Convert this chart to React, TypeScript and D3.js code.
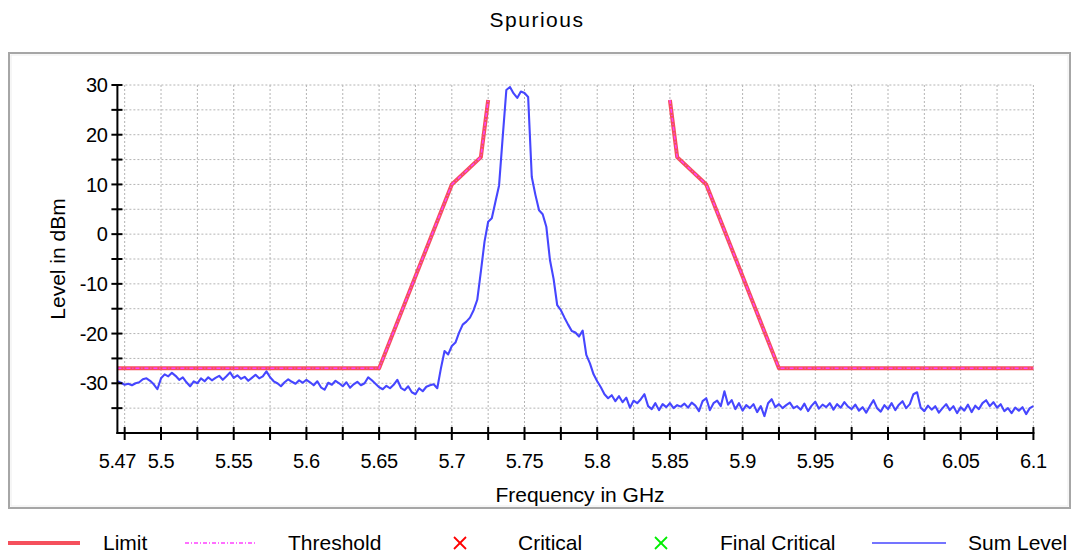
import React from "react";
import * as d3 from "d3";

// ---- Data ----
const FREQ_START = 5.47;
const FREQ_STEP = 0.0025;

// Sum Level trace (dBm), one value per FREQ_STEP starting at FREQ_START
const sumLevel: number[] = [
  -29.6, -29.9, -30.3, -30.1, -30.4, -30.0, -29.8, -29.2, -29.0,
  -29.5, -30.2, -31.2,
  -29.0, -28.2, -28.6, -27.9, -28.5, -29.3, -28.8,
  -29.8, -30.6, -29.6,
  -30.0, -29.0, -29.6, -28.8, -29.4, -28.9,
  -28.5, -29.3, -28.6, -27.8, -28.9, -28.4,
  -29.1, -28.7, -29.5, -28.9, -28.3, -29.0, -28.6, -27.6,
  -28.8, -29.6, -30.0, -30.6, -29.8,
  -29.2, -29.7, -30.1, -29.4, -29.9, -29.3, -29.8,
  -30.4, -29.6, -30.8, -31.3, -29.9, -30.3, -29.5, -30.0,
  -30.6, -29.8, -30.9, -30.2, -29.7, -30.4, -30.0,
  -28.8, -29.4, -30.1,
  -30.8, -31.2, -30.5, -31.0, -30.3, -29.3,
  -30.9, -31.4, -30.6, -31.8, -32.2, -31.0, -31.6, -30.7, -30.4, -30.2, -31.0,
  // carrier
  -27.0, -23.5, -24.2, -22.5, -21.8, -19.8, -18.2, -17.6, -16.8, -15.3,
  -13.2, -7.5, -1.5, 2.5, 3.2, 6.5, 9.8, 19.5, 29.0, 29.6,
  28.3, 27.4, 28.7, 28.4, 27.6, 11.5, 7.9, 4.8, 4.0, 1.5,
  -5.2, -9.0, -14.3, -15.3, -16.8, -18.2, -19.5, -19.8, -20.6, -19.4,
  -24.3, -26.0,
  // right floor
  -28.2, -29.6, -30.8, -32.2, -33.0, -32.4, -33.6, -32.6, -33.8, -32.9,
  -34.9, -33.5, -34.0, -33.2, -32.2, -34.6, -35.2, -34.0, -35.4, -34.2,
  -34.8, -34.0, -35.0, -34.4, -34.7, -34.1, -34.9, -33.9, -34.5, -35.6,
  -33.6, -33.0, -35.4, -34.0, -33.5, -34.6, -31.6, -34.3, -33.4, -35.2,
  -34.0, -35.5, -34.4, -35.0, -34.2, -35.8, -34.6, -36.6, -34.0, -33.2,
  -34.8, -34.2, -35.0, -34.4, -33.9, -35.0, -34.6, -35.3, -34.1, -35.6,
  -34.5, -33.7, -35.1, -34.3, -34.8, -34.0, -35.3, -34.2, -34.9, -33.8,
  -34.7, -35.2, -34.3, -35.5, -34.8, -35.9, -34.6, -33.4, -35.0, -35.7,
  -34.4, -35.2, -34.0, -35.4, -34.3, -33.6, -35.0, -34.2, -32.2, -31.8,
  -34.9, -35.6, -34.5, -35.3, -34.6, -35.9, -35.0, -34.2, -35.4, -34.6,
  -36.0, -34.8, -35.5, -34.3, -35.8, -34.5, -35.2, -34.0, -33.4, -34.6,
  -33.8, -34.9, -34.2, -35.6, -35.0, -36.0, -34.9, -35.5, -34.8, -36.2,
  -35.0, -34.6,
];

// Limit mask (two segments)
const limitLeftFreq = [5.47, 5.65, 5.7, 5.72, 5.725];
const limitLeftLevel = [-27, -27, 10, 15.5, 27];
const limitRightFreq = [5.85, 5.855, 5.875, 5.925, 6.1];
const limitRightLevel = [27, 15.5, 10, -27, -27];

const xTickLabels = ["5.47", "5.5", "5.55", "5.6", "5.65", "5.7", "5.75", "5.8", "5.85", "5.9", "5.95", "6", "6.05", "6.1"];
const yTickLabels = [30, 20, 10, 0, -10, -20, -30];
const legendItems = ["Limit", "Threshold", "Critical", "Final Critical", "Sum Level"];

const X_DOMAIN: [number, number] = [5.47, 6.1];
const Y_DOMAIN: [number, number] = [-40, 30];
const X_MINOR_STEP = 0.025;
const Y_MINOR_STEP = 5;

// ---- Styles ----
const FONT = "'Liberation Sans', Arial, sans-serif";
const LIMIT_COLOR = "#f5505c";
const THRESH_COLOR = "#ff40ff";
const SUM_COLOR = "#4646ff";
const GRID_COLOR = "#b4b4b4";

export default function App() {
  const W = 1075;
  const H = 555;
  const left = 117.4;
  const right = 1033.4;
  const top = 85;
  const bottom = 433;

  const x = d3.scaleLinear().domain(X_DOMAIN).range([left, right]);
  const y = d3.scaleLinear().domain(Y_DOMAIN).range([bottom, top]);

  const sumData = sumLevel.map((v, i) => [FREQ_START + i * FREQ_STEP, v] as [number, number]);
  const line = d3
    .line<[number, number]>()
    .x((d) => x(d[0]))
    .y((d) => y(d[1]));

  const limL = limitLeftFreq.map((f, i) => [f, limitLeftLevel[i]] as [number, number]);
  const limR = limitRightFreq.map((f, i) => [f, limitRightLevel[i]] as [number, number]);

  const xMinor = d3.range(Math.round((X_DOMAIN[1] - X_DOMAIN[0] - 0.005) / X_MINOR_STEP) + 1).map(
    (k) => X_DOMAIN[0] + 0.005 + k * X_MINOR_STEP
  );
  const yMinor = d3.range(Y_DOMAIN[0] + Y_MINOR_STEP, Y_DOMAIN[1] + 0.001, Y_MINOR_STEP);

  const legendY = 543;
  const legendTextY = 550;

  return (
    <svg
      width={W}
      height={H}
      style={{ position: "absolute", left: 0, top: 0, display: "block", background: "#fff" }}
      fontFamily={FONT}
    >
      <rect x={0} y={0} width={W} height={H} fill="#fff" />
      {/* title */}
      <text x={537} y={27} textAnchor="middle" fontSize={21} letterSpacing={1.5} fill="#000">
        Spurious
      </text>
      {/* frame */}
      <rect x={9} y={53} width={1061} height={455} fill="none" stroke="#a6a6a6" strokeWidth={2} />
      <rect x={11} y={55} width={1057} height={451} fill="none" stroke="#ededed" strokeWidth={1} />

      {/* grid */}
      <g stroke={GRID_COLOR} strokeWidth={1} strokeDasharray="2,2">
        {xMinor.map((f, i) => (
          <line key={"gx" + i} x1={x(f)} x2={x(f)} y1={top} y2={bottom} />
        ))}
        {yMinor.map((v, i) => (
          <line key={"gy" + i} x1={left} x2={right} y1={y(v)} y2={y(v)} />
        ))}
      </g>

      {/* limit + threshold */}
      {[limL, limR].map((seg, i) => (
        <g key={"lim" + i}>
          <path d={line(seg) || ""} fill="none" stroke={LIMIT_COLOR} strokeWidth={4} strokeLinejoin="round" />
          <path d={line(seg) || ""} fill="none" stroke={THRESH_COLOR} strokeWidth={1.5} strokeDasharray="4,2,1,2" />
        </g>
      ))}

      {/* sum level */}
      <path d={line(sumData) || ""} fill="none" stroke={SUM_COLOR} strokeWidth={2.1} strokeLinejoin="round" />

      {/* axes */}
      <g stroke="#000" strokeWidth={2}>
        <line x1={left} x2={left} y1={top - 1} y2={bottom + 1} />
        <line x1={left - 1} x2={right + 1} y1={bottom} y2={bottom} />
        {yMinor.map((v, i) => (
          <line key={"yt" + i} x1={left - 6} x2={left + 5} y1={y(v)} y2={y(v)} />
        ))}
        {xMinor.map((f, i) => (
          <line key={"xt" + i} x1={x(f)} x2={x(f)} y1={bottom - 6} y2={bottom + 7} />
        ))}
      </g>

      {/* tick labels */}
      <g fontSize={20} fill="#000" letterSpacing={-0.4}>
        {yTickLabels.map((v) => (
          <text key={"yl" + v} x={left - 10} y={y(v)} dy="0.36em" textAnchor="end">
            {v}
          </text>
        ))}
        {xTickLabels.map((s) => (
          <text key={"xl" + s} x={x(+s)} y={468} textAnchor="middle">
            {s}
          </text>
        ))}
      </g>

      {/* axis titles */}
      <text x={580} y={502} textAnchor="middle" fontSize={21} fill="#000">
        Frequency in GHz
      </text>
      <text transform={`translate(65,${(top + bottom) / 2}) rotate(-90)`} textAnchor="middle" fontSize={21} fill="#000">
        Level in dBm
      </text>

      {/* legend */}
      <g fontSize={21} fill="#000">
        <line x1={8} x2={80} y1={legendY} y2={legendY} stroke={LIMIT_COLOR} strokeWidth={4} />
        <text x={103} y={legendTextY}>{legendItems[0]}</text>
        <line x1={185} x2={256} y1={legendY} y2={legendY} stroke={THRESH_COLOR} strokeWidth={1.5} strokeDasharray="4,2,1,2" />
        <text x={288} y={legendTextY}>{legendItems[1]}</text>
        <g stroke="#ff0000" strokeWidth={1.8}>
          <line x1={454} x2={466} y1={legendY - 6} y2={legendY + 6} />
          <line x1={454} x2={466} y1={legendY + 6} y2={legendY - 6} />
        </g>
        <text x={518} y={legendTextY}>{legendItems[2]}</text>
        <g stroke="#00ee00" strokeWidth={1.8}>
          <line x1={655} x2={667} y1={legendY - 6} y2={legendY + 6} />
          <line x1={655} x2={667} y1={legendY + 6} y2={legendY - 6} />
        </g>
        <text x={720} y={legendTextY}>{legendItems[3]}</text>
        <line x1={872} x2={946} y1={legendY} y2={legendY} stroke={SUM_COLOR} strokeWidth={1.6} />
        <text x={968} y={legendTextY}>{legendItems[4]}</text>
      </g>
    </svg>
  );
}
